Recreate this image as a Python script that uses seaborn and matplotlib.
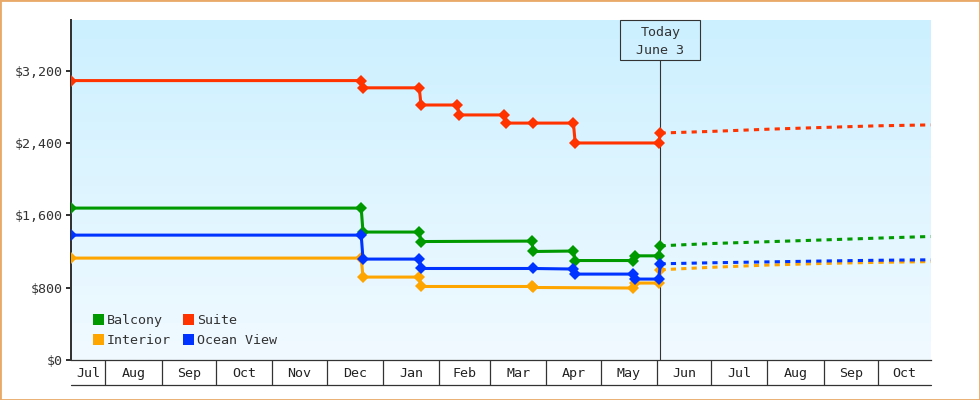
import numpy as np
import pandas as pd
import matplotlib
matplotlib.use("Agg")
import matplotlib.pyplot as plt
import matplotlib.dates as mdates
import matplotlib.ticker as mticker
from matplotlib.patches import Patch, Rectangle
from matplotlib.lines import Line2D
import seaborn as sns

# ---------------- data ----------------
CABINS = ["Balcony", "Interior", "Suite", "Ocean View"]
COLORS = {"Balcony": "#009900", "Interior": "#ffa500",
          "Suite": "#ff3300", "Ocean View": "#0033ff"}

balcony_dates = ["2022-07-13", "2022-12-20", "2022-12-21", "2023-01-21", "2023-01-22",
                 "2023-03-24", "2023-03-25", "2023-04-16", "2023-04-17", "2023-05-19",
                 "2023-05-20", "2023-06-02", "2023-06-03"]
balcony_vals = [1680, 1680, 1415, 1415, 1310, 1315, 1200, 1205, 1100, 1100, 1152, 1152, 1263]

interior_dates = ["2022-07-13", "2022-12-20", "2022-12-21", "2023-01-21", "2023-01-22",
                  "2023-03-24", "2023-03-25", "2023-05-19", "2023-05-20", "2023-06-02",
                  "2023-06-03"]
interior_vals = [1127, 1127, 917, 917, 813, 813, 802, 796, 851, 851, 998]

suite_dates = ["2022-07-13", "2022-12-20", "2022-12-21", "2023-01-21", "2023-01-22",
               "2023-02-11", "2023-02-12", "2023-03-09", "2023-03-10", "2023-03-25",
               "2023-04-16", "2023-04-17", "2023-06-02", "2023-06-03"]
suite_vals = [3090, 3090, 3010, 3010, 2820, 2820, 2710, 2710, 2620, 2620, 2620, 2400, 2400, 2510]

ocean_dates = ["2022-07-13", "2022-12-20", "2022-12-21", "2023-01-21", "2023-01-22",
               "2023-03-25", "2023-04-16", "2023-04-17", "2023-05-19", "2023-05-20",
               "2023-06-02", "2023-06-03"]
ocean_vals = [1381, 1381, 1116, 1116, 1012, 1012, 1006, 950, 950, 895, 895, 1064]

forecast_dates = ["2023-06-03", "2023-07-01", "2023-08-01", "2023-09-01", "2023-10-01", "2023-10-30"]
balcony_fc = [1263, 1288, 1308, 1328, 1348, 1366]
interior_fc = [998, 1025, 1050, 1068, 1080, 1088]
suite_fc = [2510, 2528, 2552, 2572, 2590, 2600]
ocean_fc = [1064, 1075, 1085, 1095, 1103, 1108]

x_start, x_end = "2022-07-13", "2023-10-30"
today = "2023-06-03"
today_label = ["Today", "June 3"]
y_ticks = [0, 800, 1600, 2400, 3200]
y_max = 3760

# ---------------- frames ----------------
obs = pd.concat([
    pd.DataFrame({"date": pd.to_datetime(d), "price": v, "cabin": c})
    for c, d, v in [("Balcony", balcony_dates, balcony_vals),
                    ("Interior", interior_dates, interior_vals),
                    ("Suite", suite_dates, suite_vals),
                    ("Ocean View", ocean_dates, ocean_vals)]
], ignore_index=True)
fc = pd.concat([
    pd.DataFrame({"date": pd.to_datetime(forecast_dates), "price": v, "cabin": c})
    for c, v in [("Balcony", balcony_fc), ("Interior", interior_fc),
                 ("Suite", suite_fc), ("Ocean View", ocean_fc)]
], ignore_index=True)

# ---------------- style ----------------
sns.set_theme(style="white")
plt.rcParams["font.family"] = ["DejaVu Sans Mono", "DejaVu Sans"]
FS = 9.6
INK = "#333333"

fig = plt.figure(figsize=(9.8, 4.0), dpi=100)
ax = fig.add_axes([71 / 980, 40 / 400, (930.7 - 71) / 980, 340 / 400])

# gradient background
g = np.linspace(0, 1, 256)[:, None, None]
top = np.array([204, 240, 255]) / 255
bot = np.array([241, 250, 255]) / 255
img = top * (1 - g) + bot * g
ax.imshow(img, extent=[0, 1, 0, 1], transform=ax.transAxes, aspect="auto", zorder=0)

# today line + box
tnum = mdates.date2num(pd.Timestamp(today))
box_h = 40 / 340
ax.axvline(pd.Timestamp(today), ymin=0, ymax=1 - box_h, color=INK, lw=0.8, zorder=1.5)

# data lines
sns.lineplot(data=obs, x="date", y="price", hue="cabin", hue_order=CABINS,
             palette=COLORS, marker="D", markersize=6, markeredgewidth=0,
             linewidth=2.2, estimator=None, legend=False, ax=ax, zorder=3)
sns.lineplot(data=fc, x="date", y="price", hue="cabin", hue_order=CABINS,
             palette=COLORS, linewidth=2.2, linestyle=(0, (1.7, 1.7)),
             estimator=None, legend=False, ax=ax, zorder=2.5)

xmin, xmax = pd.Timestamp(x_start), pd.Timestamp(x_end)
ax.set_xlim(xmin, xmax)
ax.set_ylim(0, y_max)

days_per_px = (mdates.date2num(xmax) - mdates.date2num(xmin)) / 859.7
bw = 80 * days_per_px
ax.add_patch(Rectangle((tnum - bw / 2, 1 - box_h), bw, box_h,
                       transform=ax.get_xaxis_transform(), fill=False,
                       ec=INK, lw=0.8, clip_on=False, zorder=4))
ax.text(pd.Timestamp(today), (360 - 32.7) / 340, today_label[0], transform=ax.get_xaxis_transform(),
        ha="center", va="center", fontsize=FS, color=INK, zorder=5)
ax.text(pd.Timestamp(today), (360 - 50) / 340, today_label[1], transform=ax.get_xaxis_transform(),
        ha="center", va="center", fontsize=FS, color=INK, zorder=5)

# y axis
ax.set_yticks(y_ticks)
ax.yaxis.set_major_formatter(mticker.FuncFormatter(lambda v, p: f"${v:,.0f}"))
ax.tick_params(axis="y", left=True, direction="out", length=3.6, width=1.44,
               color=INK, pad=2.5, labelsize=FS, labelcolor=INK)
ax.set_xlabel("")
ax.set_ylabel("")

# x axis: month separators + centered labels
months = pd.date_range("2022-08-01", "2023-10-01", freq="MS")
ax.set_xticks(months)
ax.set_xticklabels([])
ax.tick_params(axis="x", bottom=True, direction="out", length=18, width=0.9, color=INK)
bounds = [xmin] + list(months) + [xmax]
for a, b in zip(bounds[:-1], bounds[1:]):
    mid = a + (b - a) / 2
    ax.text(mid, -13.5 / 340, a.strftime("%b"), transform=ax.get_xaxis_transform(),
            ha="center", va="center", fontsize=FS, color="#222222", clip_on=False)
ax.add_line(Line2D([0, 1], [-25 / 340, -25 / 340], transform=ax.transAxes,
                   color=INK, lw=0.9, clip_on=False))

for s in ["top", "right"]:
    ax.spines[s].set_visible(False)
ax.spines["left"].set_color(INK)
ax.spines["left"].set_linewidth(1.44)
ax.spines["bottom"].set_color(INK)
ax.spines["bottom"].set_linewidth(0.9)
ax.grid(False)

# legend
handles = [Patch(fc=COLORS[c], ec="none") for c in CABINS]
leg = ax.legend(handles, CABINS, ncol=2, loc="lower left",
                bbox_to_anchor=(22 / 860, 13 / 340), frameon=False, fontsize=FS,
                handlelength=0.83, handleheight=0.83, handletextpad=0.2,
                columnspacing=0.95, labelspacing=0.5, borderpad=0, borderaxespad=0)
for t in leg.get_texts():
    t.set_color(INK)

# outer border
fig.add_artist(Rectangle((0, 0), 1, 1, transform=fig.transFigure, fill=False,
                         ec="#e9a968", lw=2))

fig.savefig("out.png", dpi=100)
